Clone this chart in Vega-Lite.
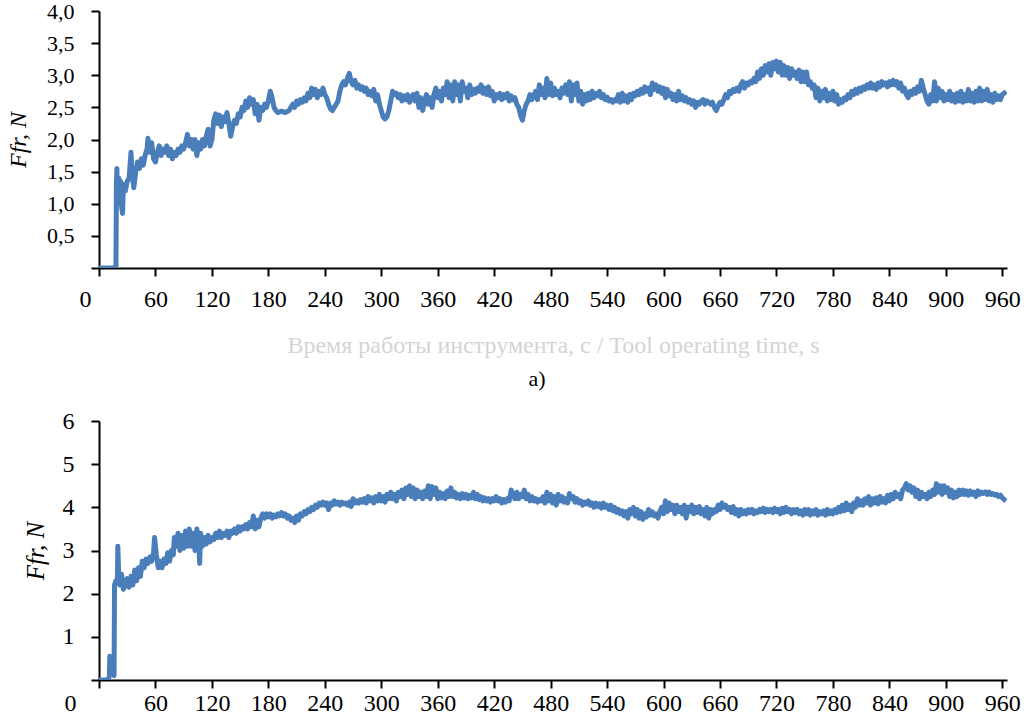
{
"$schema": "https://vega.github.io/schema/vega-lite/v6.json",
"background": "white",
"padding": {"left": 6, "top": 0, "right": 5, "bottom": 0},
"bounds": "flush",
"spacing": 153,
"config": {
  "view": {"stroke": null},
  "font": "Liberation Serif",
  "axis": {"domainColor": "#000000", "domainWidth": 2, "tickColor": "#000000", "tickWidth": 2, "tickSize": 8, "grid": false, "labelColor": "#000000", "labelFont": "Liberation Serif", "titleFont": "Liberation Serif", "titleColor": "#000000", "titleFontWeight": "normal", "labelOverlap": false, "labelFlush": false}
},
"datasets": {
"a": [
{"t":0,"f":0},{"t":5,"f":0},{"t":10,"f":0},{"t":15,"f":0},{"t":18,"f":0},{"t":18.5,"f":1.3},{"t":19,"f":1.55},{"t":20,"f":1.0},{"t":21,"f":1.4},{"t":22,"f":1.1},{"t":23,"f":1.35},{"t":24,"f":0.95},{"t":25,"f":0.85},{"t":26,"f":1.3},{"t":28,"f":1.2},{"t":30,"f":1.35},{"t":32,"f":1.4},{"t":34,"f":1.8},{"t":35,"f":1.5},{"t":37,"f":1.25},{"t":39,"f":1.5},{"t":41,"f":1.65},{"t":43,"f":1.55},{"t":45,"f":1.7},{"t":47,"f":1.6},{"t":49,"f":1.75},{"t":51,"f":1.85},{"t":52,"f":2.02},{"t":54,"f":1.8},{"t":56,"f":1.95},{"t":58,"f":1.7},{"t":60,"f":1.65},{"t":62,"f":1.8},{"t":64,"f":1.9},{"t":66,"f":1.75},{"t":68,"f":1.85},{"t":70,"f":1.8},{"t":72,"f":1.9},{"t":74,"f":1.75},{"t":76,"f":1.85},{"t":78,"f":1.7},{"t":80,"f":1.8},{"t":82,"f":1.75},{"t":84,"f":1.85},{"t":86,"f":1.8},{"t":88,"f":1.9},{"t":90,"f":1.85},{"t":92,"f":1.95},{"t":94,"f":2.08},{"t":96,"f":1.9},{"t":98,"f":2.0},{"t":100,"f":1.85},{"t":102,"f":2.0},{"t":104,"f":1.75},{"t":106,"f":1.95},{"t":108,"f":1.85},{"t":110,"f":2.0},{"t":112,"f":1.9},{"t":114,"f":2.05},{"t":116,"f":2.16},{"t":118,"f":1.9},{"t":120,"f":2.0},{"t":122,"f":2.3},{"t":124,"f":2.4},{"t":126,"f":2.25},{"t":128,"f":2.38},{"t":130,"f":2.2},{"t":132,"f":2.35},{"t":134,"f":2.28},{"t":136,"f":2.42},{"t":138,"f":2.25},{"t":140,"f":2.05},{"t":142,"f":2.2},{"t":144,"f":2.3},{"t":146,"f":2.25},{"t":148,"f":2.4},{"t":150,"f":2.35},{"t":152,"f":2.5},{"t":154,"f":2.45},{"t":156,"f":2.6},{"t":158,"f":2.5},{"t":160,"f":2.65},{"t":162,"f":2.55},{"t":164,"f":2.62},{"t":166,"f":2.4},{"t":168,"f":2.55},{"t":170,"f":2.3},{"t":172,"f":2.5},{"t":174,"f":2.45},{"t":176,"f":2.55},{"t":178,"f":2.5},{"t":180,"f":2.6},{"t":182,"f":2.75},{"t":184,"f":2.65},{"t":186,"f":2.5},{"t":188,"f":2.45},{"t":190,"f":2.42},{"t":194,"f":2.44},{"t":198,"f":2.42},{"t":202,"f":2.45},{"t":204,"f":2.5},{"t":206,"f":2.55},{"t":208,"f":2.5},{"t":210,"f":2.6},{"t":212,"f":2.55},{"t":214,"f":2.62},{"t":216,"f":2.58},{"t":218,"f":2.65},{"t":220,"f":2.6},{"t":222,"f":2.72},{"t":224,"f":2.65},{"t":226,"f":2.8},{"t":228,"f":2.7},{"t":230,"f":2.78},{"t":232,"f":2.65},{"t":234,"f":2.75},{"t":236,"f":2.7},{"t":238,"f":2.8},{"t":240,"f":2.7},{"t":242,"f":2.65},{"t":244,"f":2.55},{"t":246,"f":2.48},{"t":248,"f":2.45},{"t":250,"f":2.5},{"t":252,"f":2.55},{"t":254,"f":2.6},{"t":256,"f":2.75},{"t":258,"f":2.85},{"t":260,"f":2.9},{"t":262,"f":2.85},{"t":264,"f":2.95},{"t":266,"f":3.03},{"t":268,"f":2.9},{"t":270,"f":2.85},{"t":272,"f":2.92},{"t":274,"f":2.8},{"t":276,"f":2.85},{"t":278,"f":2.78},{"t":280,"f":2.82},{"t":282,"f":2.75},{"t":284,"f":2.8},{"t":286,"f":2.7},{"t":288,"f":2.75},{"t":290,"f":2.68},{"t":292,"f":2.78},{"t":294,"f":2.6},{"t":296,"f":2.7},{"t":298,"f":2.55},{"t":300,"f":2.45},{"t":302,"f":2.35},{"t":304,"f":2.32},{"t":306,"f":2.35},{"t":308,"f":2.45},{"t":310,"f":2.6},{"t":312,"f":2.75},{"t":314,"f":2.7},{"t":316,"f":2.72},{"t":318,"f":2.65},{"t":320,"f":2.7},{"t":322,"f":2.6},{"t":324,"f":2.68},{"t":326,"f":2.62},{"t":328,"f":2.7},{"t":330,"f":2.58},{"t":332,"f":2.65},{"t":334,"f":2.7},{"t":336,"f":2.6},{"t":338,"f":2.72},{"t":340,"f":2.5},{"t":342,"f":2.65},{"t":344,"f":2.45},{"t":346,"f":2.6},{"t":348,"f":2.7},{"t":350,"f":2.55},{"t":352,"f":2.65},{"t":354,"f":2.5},{"t":356,"f":2.7},{"t":358,"f":2.8},{"t":360,"f":2.65},{"t":362,"f":2.75},{"t":364,"f":2.6},{"t":366,"f":2.8},{"t":368,"f":2.7},{"t":370,"f":2.9},{"t":372,"f":2.65},{"t":374,"f":2.85},{"t":376,"f":2.6},{"t":378,"f":2.9},{"t":380,"f":2.7},{"t":382,"f":2.85},{"t":384,"f":2.6},{"t":386,"f":2.9},{"t":388,"f":2.75},{"t":390,"f":2.8},{"t":392,"f":2.65},{"t":394,"f":2.85},{"t":396,"f":2.7},{"t":398,"f":2.78},{"t":400,"f":2.72},{"t":402,"f":2.8},{"t":404,"f":2.75},{"t":406,"f":2.85},{"t":408,"f":2.72},{"t":410,"f":2.8},{"t":412,"f":2.7},{"t":414,"f":2.82},{"t":416,"f":2.68},{"t":418,"f":2.75},{"t":420,"f":2.6},{"t":422,"f":2.7},{"t":424,"f":2.65},{"t":426,"f":2.72},{"t":428,"f":2.62},{"t":430,"f":2.7},{"t":432,"f":2.65},{"t":434,"f":2.72},{"t":436,"f":2.6},{"t":438,"f":2.68},{"t":440,"f":2.62},{"t":442,"f":2.65},{"t":444,"f":2.55},{"t":446,"f":2.5},{"t":448,"f":2.38},{"t":450,"f":2.3},{"t":452,"f":2.45},{"t":454,"f":2.55},{"t":456,"f":2.6},{"t":458,"f":2.7},{"t":460,"f":2.62},{"t":462,"f":2.68},{"t":464,"f":2.75},{"t":466,"f":2.62},{"t":468,"f":2.85},{"t":470,"f":2.7},{"t":472,"f":2.8},{"t":474,"f":2.65},{"t":476,"f":2.95},{"t":478,"f":2.7},{"t":480,"f":2.88},{"t":482,"f":2.68},{"t":484,"f":2.8},{"t":486,"f":2.7},{"t":488,"f":2.75},{"t":490,"f":2.65},{"t":492,"f":2.8},{"t":494,"f":2.72},{"t":496,"f":2.85},{"t":498,"f":2.7},{"t":500,"f":2.9},{"t":502,"f":2.6},{"t":504,"f":2.85},{"t":506,"f":2.7},{"t":508,"f":2.88},{"t":510,"f":2.6},{"t":512,"f":2.75},{"t":514,"f":2.55},{"t":516,"f":2.7},{"t":518,"f":2.6},{"t":520,"f":2.72},{"t":522,"f":2.62},{"t":524,"f":2.75},{"t":526,"f":2.65},{"t":528,"f":2.72},{"t":530,"f":2.68},{"t":532,"f":2.75},{"t":534,"f":2.65},{"t":536,"f":2.7},{"t":538,"f":2.62},{"t":540,"f":2.66},{"t":542,"f":2.6},{"t":544,"f":2.62},{"t":546,"f":2.58},{"t":548,"f":2.62},{"t":550,"f":2.6},{"t":552,"f":2.7},{"t":554,"f":2.58},{"t":556,"f":2.72},{"t":558,"f":2.6},{"t":560,"f":2.68},{"t":562,"f":2.58},{"t":564,"f":2.7},{"t":566,"f":2.62},{"t":568,"f":2.72},{"t":570,"f":2.68},{"t":572,"f":2.75},{"t":574,"f":2.7},{"t":576,"f":2.78},{"t":578,"f":2.72},{"t":580,"f":2.82},{"t":582,"f":2.75},{"t":584,"f":2.8},{"t":586,"f":2.7},{"t":588,"f":2.88},{"t":590,"f":2.78},{"t":592,"f":2.85},{"t":594,"f":2.75},{"t":596,"f":2.82},{"t":598,"f":2.72},{"t":600,"f":2.8},{"t":602,"f":2.65},{"t":604,"f":2.78},{"t":606,"f":2.68},{"t":608,"f":2.72},{"t":610,"f":2.62},{"t":612,"f":2.7},{"t":614,"f":2.6},{"t":616,"f":2.75},{"t":618,"f":2.62},{"t":620,"f":2.68},{"t":622,"f":2.6},{"t":624,"f":2.65},{"t":626,"f":2.58},{"t":628,"f":2.62},{"t":630,"f":2.55},{"t":632,"f":2.6},{"t":634,"f":2.5},{"t":636,"f":2.58},{"t":638,"f":2.55},{"t":640,"f":2.6},{"t":642,"f":2.62},{"t":644,"f":2.55},{"t":646,"f":2.6},{"t":648,"f":2.58},{"t":650,"f":2.55},{"t":652,"f":2.58},{"t":654,"f":2.5},{"t":656,"f":2.45},{"t":658,"f":2.52},{"t":660,"f":2.58},{"t":662,"f":2.55},{"t":664,"f":2.62},{"t":666,"f":2.7},{"t":668,"f":2.65},{"t":670,"f":2.75},{"t":672,"f":2.72},{"t":674,"f":2.78},{"t":676,"f":2.75},{"t":678,"f":2.8},{"t":680,"f":2.75},{"t":682,"f":2.85},{"t":684,"f":2.9},{"t":686,"f":2.8},{"t":688,"f":2.88},{"t":690,"f":2.85},{"t":692,"f":2.9},{"t":694,"f":2.88},{"t":696,"f":2.95},{"t":698,"f":2.9},{"t":700,"f":3.05},{"t":702,"f":2.95},{"t":704,"f":3.1},{"t":706,"f":3.0},{"t":708,"f":3.15},{"t":710,"f":3.05},{"t":712,"f":3.18},{"t":714,"f":3.0},{"t":716,"f":3.2},{"t":718,"f":3.1},{"t":720,"f":3.22},{"t":722,"f":3.05},{"t":724,"f":3.2},{"t":726,"f":3.0},{"t":728,"f":3.15},{"t":730,"f":3.0},{"t":732,"f":3.12},{"t":734,"f":2.95},{"t":736,"f":3.1},{"t":738,"f":3.0},{"t":740,"f":3.05},{"t":742,"f":2.95},{"t":744,"f":3.08},{"t":746,"f":2.9},{"t":748,"f":3.05},{"t":750,"f":2.9},{"t":752,"f":3.05},{"t":754,"f":2.85},{"t":756,"f":2.9},{"t":758,"f":2.8},{"t":760,"f":2.85},{"t":762,"f":2.65},{"t":764,"f":2.8},{"t":766,"f":2.6},{"t":768,"f":2.75},{"t":770,"f":2.65},{"t":772,"f":2.78},{"t":774,"f":2.6},{"t":776,"f":2.72},{"t":778,"f":2.62},{"t":780,"f":2.75},{"t":782,"f":2.6},{"t":784,"f":2.7},{"t":786,"f":2.55},{"t":788,"f":2.62},{"t":790,"f":2.58},{"t":792,"f":2.65},{"t":794,"f":2.62},{"t":796,"f":2.7},{"t":798,"f":2.65},{"t":800,"f":2.75},{"t":802,"f":2.7},{"t":804,"f":2.78},{"t":806,"f":2.72},{"t":808,"f":2.8},{"t":810,"f":2.75},{"t":812,"f":2.82},{"t":814,"f":2.78},{"t":816,"f":2.85},{"t":818,"f":2.8},{"t":820,"f":2.88},{"t":822,"f":2.8},{"t":824,"f":2.85},{"t":826,"f":2.78},{"t":828,"f":2.88},{"t":830,"f":2.82},{"t":832,"f":2.9},{"t":834,"f":2.85},{"t":836,"f":2.88},{"t":838,"f":2.82},{"t":840,"f":2.9},{"t":842,"f":2.85},{"t":844,"f":2.92},{"t":846,"f":2.85},{"t":848,"f":2.9},{"t":850,"f":2.8},{"t":852,"f":2.88},{"t":854,"f":2.75},{"t":856,"f":2.8},{"t":858,"f":2.7},{"t":860,"f":2.65},{"t":862,"f":2.75},{"t":864,"f":2.7},{"t":866,"f":2.78},{"t":868,"f":2.72},{"t":870,"f":2.82},{"t":872,"f":2.75},{"t":874,"f":2.92},{"t":876,"f":2.8},{"t":878,"f":2.7},{"t":880,"f":2.6},{"t":882,"f":2.55},{"t":884,"f":2.7},{"t":886,"f":2.6},{"t":888,"f":2.9},{"t":890,"f":2.6},{"t":892,"f":2.8},{"t":894,"f":2.65},{"t":896,"f":2.75},{"t":898,"f":2.6},{"t":900,"f":2.7},{"t":902,"f":2.62},{"t":904,"f":2.75},{"t":906,"f":2.6},{"t":908,"f":2.7},{"t":910,"f":2.58},{"t":912,"f":2.72},{"t":914,"f":2.6},{"t":916,"f":2.75},{"t":918,"f":2.58},{"t":920,"f":2.7},{"t":922,"f":2.6},{"t":924,"f":2.78},{"t":926,"f":2.6},{"t":928,"f":2.72},{"t":930,"f":2.58},{"t":932,"f":2.75},{"t":934,"f":2.6},{"t":936,"f":2.8},{"t":938,"f":2.6},{"t":940,"f":2.75},{"t":942,"f":2.62},{"t":944,"f":2.78},{"t":946,"f":2.6},{"t":948,"f":2.7},{"t":950,"f":2.58},{"t":952,"f":2.72},{"t":954,"f":2.62},{"t":956,"f":2.68},{"t":958,"f":2.62},{"t":960,"f":2.7},{"t":962,"f":2.72},{"t":964,"f":2.75}
],
"b": [
{"t":0,"f":0},{"t":5,"f":0},{"t":10,"f":0},{"t":11,"f":0.1},{"t":11.5,"f":0.55},{"t":14,"f":0.5},{"t":15.5,"f":0.55},{"t":16,"f":0.1},{"t":16.5,"f":2.2},{"t":18,"f":2.3},{"t":19.5,"f":2.25},{"t":20,"f":3.1},{"t":21,"f":2.4},{"t":22,"f":2.2},{"t":24,"f":2.45},{"t":26,"f":2.1},{"t":28,"f":2.2},{"t":30,"f":2.35},{"t":32,"f":2.15},{"t":34,"f":2.4},{"t":36,"f":2.2},{"t":38,"f":2.55},{"t":40,"f":2.3},{"t":42,"f":2.6},{"t":44,"f":2.4},{"t":46,"f":2.75},{"t":48,"f":2.6},{"t":50,"f":2.8},{"t":52,"f":2.7},{"t":54,"f":2.85},{"t":56,"f":2.75},{"t":58,"f":2.95},{"t":59,"f":3.3},{"t":61,"f":2.9},{"t":63,"f":2.6},{"t":65,"f":2.75},{"t":67,"f":2.6},{"t":69,"f":2.8},{"t":71,"f":2.7},{"t":73,"f":2.95},{"t":75,"f":2.75},{"t":77,"f":3.0},{"t":79,"f":2.9},{"t":80,"f":3.3},{"t":82,"f":3.1},{"t":84,"f":3.4},{"t":86,"f":3.0},{"t":88,"f":3.35},{"t":90,"f":3.05},{"t":92,"f":3.45},{"t":94,"f":3.1},{"t":96,"f":3.5},{"t":98,"f":3.1},{"t":100,"f":3.4},{"t":102,"f":3.0},{"t":104,"f":3.5},{"t":106,"f":3.2},{"t":107,"f":2.7},{"t":108,"f":3.4},{"t":110,"f":3.1},{"t":112,"f":3.3},{"t":114,"f":3.15},{"t":116,"f":3.35},{"t":118,"f":3.2},{"t":120,"f":3.3},{"t":122,"f":3.25},{"t":124,"f":3.4},{"t":126,"f":3.3},{"t":128,"f":3.45},{"t":130,"f":3.3},{"t":132,"f":3.4},{"t":134,"f":3.35},{"t":136,"f":3.45},{"t":138,"f":3.3},{"t":140,"f":3.45},{"t":142,"f":3.4},{"t":144,"f":3.5},{"t":146,"f":3.4},{"t":148,"f":3.55},{"t":150,"f":3.45},{"t":152,"f":3.55},{"t":154,"f":3.5},{"t":156,"f":3.6},{"t":158,"f":3.5},{"t":160,"f":3.65},{"t":162,"f":3.55},{"t":164,"f":3.8},{"t":166,"f":3.5},{"t":168,"f":3.7},{"t":170,"f":3.55},{"t":172,"f":3.75},{"t":174,"f":3.85},{"t":176,"f":3.75},{"t":178,"f":3.85},{"t":180,"f":3.78},{"t":182,"f":3.85},{"t":184,"f":3.75},{"t":186,"f":3.82},{"t":188,"f":3.78},{"t":190,"f":3.85},{"t":192,"f":3.8},{"t":194,"f":3.88},{"t":196,"f":3.8},{"t":198,"f":3.85},{"t":200,"f":3.75},{"t":202,"f":3.8},{"t":204,"f":3.7},{"t":206,"f":3.75},{"t":208,"f":3.65},{"t":210,"f":3.8},{"t":212,"f":3.7},{"t":214,"f":3.85},{"t":216,"f":3.8},{"t":218,"f":3.9},{"t":220,"f":3.85},{"t":222,"f":3.95},{"t":224,"f":3.9},{"t":226,"f":4.0},{"t":228,"f":3.95},{"t":230,"f":4.05},{"t":232,"f":4.0},{"t":234,"f":4.1},{"t":236,"f":4.05},{"t":238,"f":4.12},{"t":240,"f":4.05},{"t":242,"f":4.1},{"t":244,"f":3.95},{"t":246,"f":4.1},{"t":248,"f":4.05},{"t":250,"f":4.15},{"t":252,"f":4.08},{"t":254,"f":4.12},{"t":256,"f":4.05},{"t":258,"f":4.12},{"t":260,"f":4.08},{"t":262,"f":4.1},{"t":264,"f":4.05},{"t":266,"f":4.12},{"t":268,"f":4.02},{"t":270,"f":4.2},{"t":272,"f":4.1},{"t":274,"f":4.15},{"t":276,"f":4.1},{"t":278,"f":4.18},{"t":280,"f":4.12},{"t":282,"f":4.2},{"t":284,"f":4.1},{"t":286,"f":4.25},{"t":288,"f":4.15},{"t":290,"f":4.22},{"t":292,"f":4.1},{"t":294,"f":4.25},{"t":296,"f":4.15},{"t":298,"f":4.3},{"t":300,"f":4.15},{"t":302,"f":4.25},{"t":304,"f":4.12},{"t":306,"f":4.3},{"t":308,"f":4.2},{"t":310,"f":4.35},{"t":312,"f":4.2},{"t":314,"f":4.3},{"t":316,"f":4.15},{"t":318,"f":4.35},{"t":320,"f":4.25},{"t":322,"f":4.4},{"t":324,"f":4.2},{"t":326,"f":4.45},{"t":328,"f":4.3},{"t":330,"f":4.5},{"t":332,"f":4.25},{"t":334,"f":4.45},{"t":336,"f":4.2},{"t":338,"f":4.4},{"t":340,"f":4.25},{"t":342,"f":4.35},{"t":344,"f":4.2},{"t":346,"f":4.38},{"t":348,"f":4.25},{"t":350,"f":4.5},{"t":352,"f":4.2},{"t":354,"f":4.48},{"t":356,"f":4.3},{"t":358,"f":4.45},{"t":360,"f":4.2},{"t":362,"f":4.35},{"t":364,"f":4.22},{"t":366,"f":4.32},{"t":368,"f":4.2},{"t":370,"f":4.38},{"t":372,"f":4.25},{"t":374,"f":4.45},{"t":376,"f":4.25},{"t":378,"f":4.35},{"t":380,"f":4.22},{"t":382,"f":4.3},{"t":384,"f":4.2},{"t":386,"f":4.32},{"t":388,"f":4.22},{"t":390,"f":4.3},{"t":392,"f":4.2},{"t":394,"f":4.28},{"t":396,"f":4.22},{"t":398,"f":4.35},{"t":400,"f":4.2},{"t":402,"f":4.3},{"t":404,"f":4.18},{"t":406,"f":4.25},{"t":408,"f":4.15},{"t":410,"f":4.22},{"t":412,"f":4.15},{"t":414,"f":4.2},{"t":416,"f":4.12},{"t":418,"f":4.2},{"t":420,"f":4.15},{"t":422,"f":4.25},{"t":424,"f":4.15},{"t":426,"f":4.2},{"t":428,"f":4.1},{"t":430,"f":4.18},{"t":432,"f":4.12},{"t":434,"f":4.2},{"t":436,"f":4.15},{"t":438,"f":4.4},{"t":440,"f":4.3},{"t":442,"f":4.2},{"t":444,"f":4.35},{"t":446,"f":4.2},{"t":448,"f":4.3},{"t":450,"f":4.25},{"t":452,"f":4.4},{"t":454,"f":4.2},{"t":456,"f":4.3},{"t":458,"f":4.15},{"t":460,"f":4.25},{"t":462,"f":4.15},{"t":464,"f":4.2},{"t":466,"f":4.12},{"t":468,"f":4.18},{"t":470,"f":4.15},{"t":472,"f":4.25},{"t":474,"f":4.1},{"t":476,"f":4.35},{"t":478,"f":4.15},{"t":480,"f":4.3},{"t":482,"f":4.1},{"t":484,"f":4.25},{"t":486,"f":4.05},{"t":488,"f":4.3},{"t":490,"f":4.15},{"t":492,"f":4.25},{"t":494,"f":4.12},{"t":496,"f":4.2},{"t":498,"f":4.1},{"t":500,"f":4.32},{"t":502,"f":4.2},{"t":504,"f":4.25},{"t":506,"f":4.12},{"t":508,"f":4.2},{"t":510,"f":4.1},{"t":512,"f":4.15},{"t":514,"f":4.05},{"t":516,"f":4.12},{"t":518,"f":4.08},{"t":520,"f":4.15},{"t":522,"f":4.05},{"t":524,"f":4.1},{"t":526,"f":4.0},{"t":528,"f":4.1},{"t":530,"f":4.02},{"t":532,"f":4.08},{"t":534,"f":3.98},{"t":536,"f":4.1},{"t":538,"f":4.0},{"t":540,"f":4.05},{"t":542,"f":3.95},{"t":544,"f":4.05},{"t":546,"f":3.92},{"t":548,"f":4.0},{"t":550,"f":3.88},{"t":552,"f":3.95},{"t":554,"f":3.85},{"t":556,"f":3.92},{"t":558,"f":3.8},{"t":560,"f":3.9},{"t":562,"f":3.75},{"t":564,"f":3.95},{"t":566,"f":3.85},{"t":568,"f":4.0},{"t":570,"f":3.8},{"t":572,"f":3.95},{"t":574,"f":3.75},{"t":576,"f":3.9},{"t":578,"f":3.72},{"t":580,"f":3.85},{"t":582,"f":3.78},{"t":584,"f":3.95},{"t":586,"f":3.82},{"t":588,"f":3.9},{"t":590,"f":3.8},{"t":592,"f":3.85},{"t":594,"f":3.75},{"t":596,"f":3.9},{"t":598,"f":4.0},{"t":600,"f":3.85},{"t":602,"f":4.15},{"t":604,"f":3.9},{"t":606,"f":4.1},{"t":608,"f":3.95},{"t":610,"f":4.05},{"t":612,"f":3.85},{"t":614,"f":4.05},{"t":616,"f":3.9},{"t":618,"f":4.0},{"t":620,"f":3.85},{"t":622,"f":4.05},{"t":624,"f":3.75},{"t":626,"f":4.0},{"t":628,"f":3.9},{"t":630,"f":4.05},{"t":632,"f":3.85},{"t":634,"f":4.0},{"t":636,"f":3.88},{"t":638,"f":4.02},{"t":640,"f":3.85},{"t":642,"f":3.95},{"t":644,"f":3.8},{"t":646,"f":4.0},{"t":648,"f":3.75},{"t":650,"f":3.95},{"t":652,"f":3.85},{"t":654,"f":3.95},{"t":656,"f":3.9},{"t":658,"f":4.05},{"t":660,"f":3.95},{"t":662,"f":4.1},{"t":664,"f":4.0},{"t":666,"f":4.05},{"t":668,"f":3.95},{"t":670,"f":4.0},{"t":672,"f":3.88},{"t":674,"f":4.02},{"t":676,"f":3.85},{"t":678,"f":3.95},{"t":680,"f":3.8},{"t":682,"f":3.95},{"t":684,"f":3.85},{"t":686,"f":3.92},{"t":688,"f":3.85},{"t":690,"f":3.95},{"t":692,"f":3.88},{"t":694,"f":3.95},{"t":696,"f":3.85},{"t":698,"f":3.92},{"t":700,"f":3.88},{"t":702,"f":3.95},{"t":704,"f":3.9},{"t":706,"f":3.98},{"t":708,"f":3.88},{"t":710,"f":3.95},{"t":712,"f":3.9},{"t":714,"f":3.95},{"t":716,"f":3.88},{"t":718,"f":3.98},{"t":720,"f":3.9},{"t":722,"f":3.95},{"t":724,"f":3.85},{"t":726,"f":3.98},{"t":728,"f":3.88},{"t":730,"f":4.0},{"t":732,"f":3.9},{"t":734,"f":3.95},{"t":736,"f":3.85},{"t":738,"f":3.95},{"t":740,"f":3.88},{"t":742,"f":3.95},{"t":744,"f":3.85},{"t":746,"f":3.92},{"t":748,"f":3.82},{"t":750,"f":3.95},{"t":752,"f":3.85},{"t":754,"f":3.95},{"t":756,"f":3.82},{"t":758,"f":3.92},{"t":760,"f":3.85},{"t":762,"f":3.95},{"t":764,"f":3.82},{"t":766,"f":3.9},{"t":768,"f":3.85},{"t":770,"f":3.92},{"t":772,"f":3.82},{"t":774,"f":3.95},{"t":776,"f":3.85},{"t":778,"f":3.92},{"t":780,"f":3.85},{"t":782,"f":3.95},{"t":784,"f":3.88},{"t":786,"f":4.0},{"t":788,"f":3.9},{"t":790,"f":4.05},{"t":792,"f":3.92},{"t":794,"f":4.1},{"t":796,"f":3.95},{"t":798,"f":4.05},{"t":800,"f":3.9},{"t":802,"f":4.1},{"t":804,"f":4.0},{"t":806,"f":4.2},{"t":808,"f":4.05},{"t":810,"f":4.15},{"t":812,"f":4.05},{"t":814,"f":4.2},{"t":816,"f":4.1},{"t":818,"f":4.25},{"t":820,"f":4.05},{"t":822,"f":4.2},{"t":824,"f":4.1},{"t":826,"f":4.22},{"t":828,"f":4.08},{"t":830,"f":4.25},{"t":832,"f":4.12},{"t":834,"f":4.2},{"t":836,"f":4.1},{"t":838,"f":4.28},{"t":840,"f":4.15},{"t":842,"f":4.3},{"t":844,"f":4.2},{"t":846,"f":4.35},{"t":848,"f":4.25},{"t":850,"f":4.3},{"t":852,"f":4.2},{"t":854,"f":4.4},{"t":856,"f":4.45},{"t":858,"f":4.55},{"t":860,"f":4.4},{"t":862,"f":4.5},{"t":864,"f":4.35},{"t":866,"f":4.45},{"t":868,"f":4.25},{"t":870,"f":4.4},{"t":872,"f":4.2},{"t":874,"f":4.35},{"t":876,"f":4.25},{"t":878,"f":4.3},{"t":880,"f":4.2},{"t":882,"f":4.35},{"t":884,"f":4.25},{"t":886,"f":4.4},{"t":888,"f":4.3},{"t":890,"f":4.55},{"t":892,"f":4.35},{"t":894,"f":4.5},{"t":896,"f":4.3},{"t":898,"f":4.5},{"t":900,"f":4.35},{"t":902,"f":4.45},{"t":904,"f":4.25},{"t":906,"f":4.4},{"t":908,"f":4.22},{"t":910,"f":4.35},{"t":912,"f":4.25},{"t":914,"f":4.4},{"t":916,"f":4.3},{"t":918,"f":4.4},{"t":920,"f":4.3},{"t":922,"f":4.38},{"t":924,"f":4.28},{"t":926,"f":4.38},{"t":928,"f":4.3},{"t":930,"f":4.35},{"t":932,"f":4.25},{"t":934,"f":4.38},{"t":936,"f":4.3},{"t":938,"f":4.35},{"t":940,"f":4.32},{"t":942,"f":4.36},{"t":944,"f":4.3},{"t":946,"f":4.35},{"t":948,"f":4.3},{"t":950,"f":4.32},{"t":952,"f":4.28},{"t":954,"f":4.3},{"t":956,"f":4.25},{"t":958,"f":4.28},{"t":960,"f":4.22},{"t":962,"f":4.18},{"t":964,"f":4.15}
]
},
"vconcat": [
  {
    "width": 908,
    "height": 257,
    "data": {"name": "a"},
    "title": {"text": "a)", "orient": "bottom", "fontSize": 22, "font": "Liberation Serif", "fontWeight": "normal", "color": "#000000", "offset": 12, "dx": -16},
    "mark": {"type": "line", "color": "#4a7ebb", "strokeWidth": 5, "strokeJoin": "round", "clip": true},
    "encoding": {
      "x": {"field": "t", "type": "quantitative", "scale": {"domain": [0, 965], "nice": false, "zero": false},
        "axis": {"values": [0,60,120,180,240,300,360,420,480,540,600,660,720,780,840,900,960], "labelFontSize": 24, "labelPadding": 11,
          "labelOffset": {"condition": {"test": "datum.value === 0", "value": -14}, "value": 0},
          "title": "Время работы инструмента, с / Tool operating time, s", "titleFontSize": 24, "titleColor": "#d4d4d4", "titlePadding": 22}},
      "y": {"field": "f", "type": "quantitative", "scale": {"domain": [0, 4], "nice": false},
        "axis": {"values": [0,0.5,1,1.5,2,2.5,3,3.5,4], "labelFontSize": 22, "labelPadding": 17,
          "labelExpr": "datum.value === 0 ? '' : replace(format(datum.value, '.1f'), '.', ',')",
          "title": "Ffr, N", "titleFontSize": 24, "titleFontStyle": "italic", "titlePadding": 16}}
    }
  },
  {
    "width": 908,
    "height": 259,
    "data": {"name": "b"},
    "mark": {"type": "line", "color": "#4a7ebb", "strokeWidth": 5, "strokeJoin": "round", "clip": true},
    "encoding": {
      "x": {"field": "t", "type": "quantitative", "scale": {"domain": [0, 965], "nice": false, "zero": false},
        "axis": {"values": [0,60,120,180,240,300,360,420,480,540,600,660,720,780,840,900,960], "labelFontSize": 24, "labelPadding": 3,
          "labelOffset": {"condition": {"test": "datum.value === 0", "value": -29}, "value": 0},
          "title": null}},
      "y": {"field": "f", "type": "quantitative", "scale": {"domain": [0, 6], "nice": false},
        "axis": {"values": [0,1,2,3,4,5,6], "labelFontSize": 24, "labelPadding": 17,
          "labelExpr": "datum.value === 0 ? '' : datum.label",
          "title": "Ffr, N", "titleFontSize": 25, "titleFontStyle": "italic", "titlePadding": 14}}
    }
  }
]
}
